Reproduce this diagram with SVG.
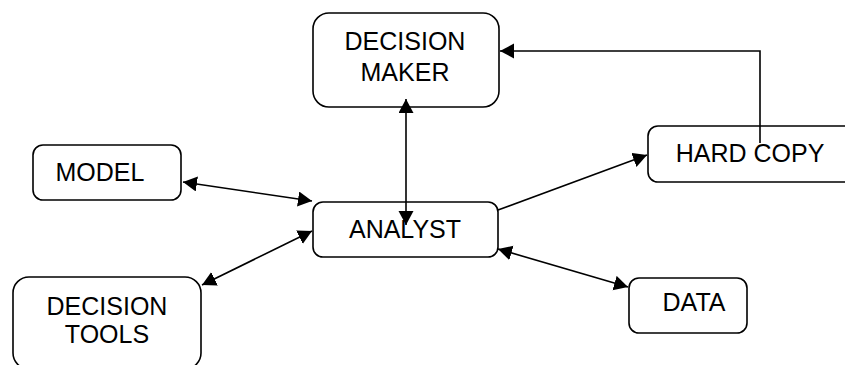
<svg xmlns="http://www.w3.org/2000/svg" width="845" height="365" viewBox="0 0 845 365">
  <style>
    .box { fill: #ffffff; stroke: #000000; stroke-width: 1.6; }
    .label { font-family: "Liberation Sans", Arial, sans-serif; font-size: 25px; fill: #000000; text-anchor: middle; }
    .link { fill: none; stroke: #000000; stroke-width: 1.6; }
    .both { marker-start: url(#head); marker-end: url(#head); }
    .one { marker-end: url(#head); }
  </style>
  <defs>
    <marker id="head" markerUnits="userSpaceOnUse" markerWidth="16" markerHeight="16" refX="14" refY="7.5" orient="auto-start-reverse">
      <path d="M0,0 L14,7.5 L0,15 z" fill="#000000"/>
    </marker>
  </defs>
  <rect width="845" height="365" fill="#ffffff"/>

  <g id="decision-maker">
    <rect class="box" x="313" y="13" width="186" height="94" rx="16"/>
    <text class="label" x="405" y="50">DECISION</text>
    <text class="label" x="405" y="81">MAKER</text>
  </g>

  <g id="analyst">
    <rect class="box" x="313" y="202" width="185" height="55" rx="10"/>
    <text class="label" x="405" y="238">ANALYST</text>
  </g>

  <g id="model">
    <rect class="box" x="33" y="145" width="148" height="55" rx="10"/>
    <text class="label" x="100" y="181">MODEL</text>
  </g>

  <g id="hard-copy">
    <rect class="box" x="648" y="126" width="220" height="56" rx="10"/>
    <text class="label" x="750" y="162">HARD COPY</text>
  </g>

  <g id="data">
    <rect class="box" x="629" y="278" width="118" height="55" rx="10"/>
    <text class="label" x="694" y="311">DATA</text>
  </g>

  <g id="decision-tools">
    <rect class="box" x="13" y="277" width="188" height="92" rx="16"/>
    <text class="label" x="107" y="315">DECISION</text>
    <text class="label" x="107" y="343">TOOLS</text>
  </g>

  <g id="connectors">
    <line class="link both" x1="406" y1="99" x2="406" y2="225"/>
    <line class="link both" x1="183" y1="182" x2="312" y2="201"/>
    <line class="link both" x1="202" y1="285" x2="312" y2="231"/>
    <line class="link both" x1="498" y1="249" x2="628" y2="287"/>
    <line class="link one" x1="498" y1="210" x2="647" y2="155"/>
    <path class="link one" d="M760,143 V51 H500"/>
  </g>
</svg>
